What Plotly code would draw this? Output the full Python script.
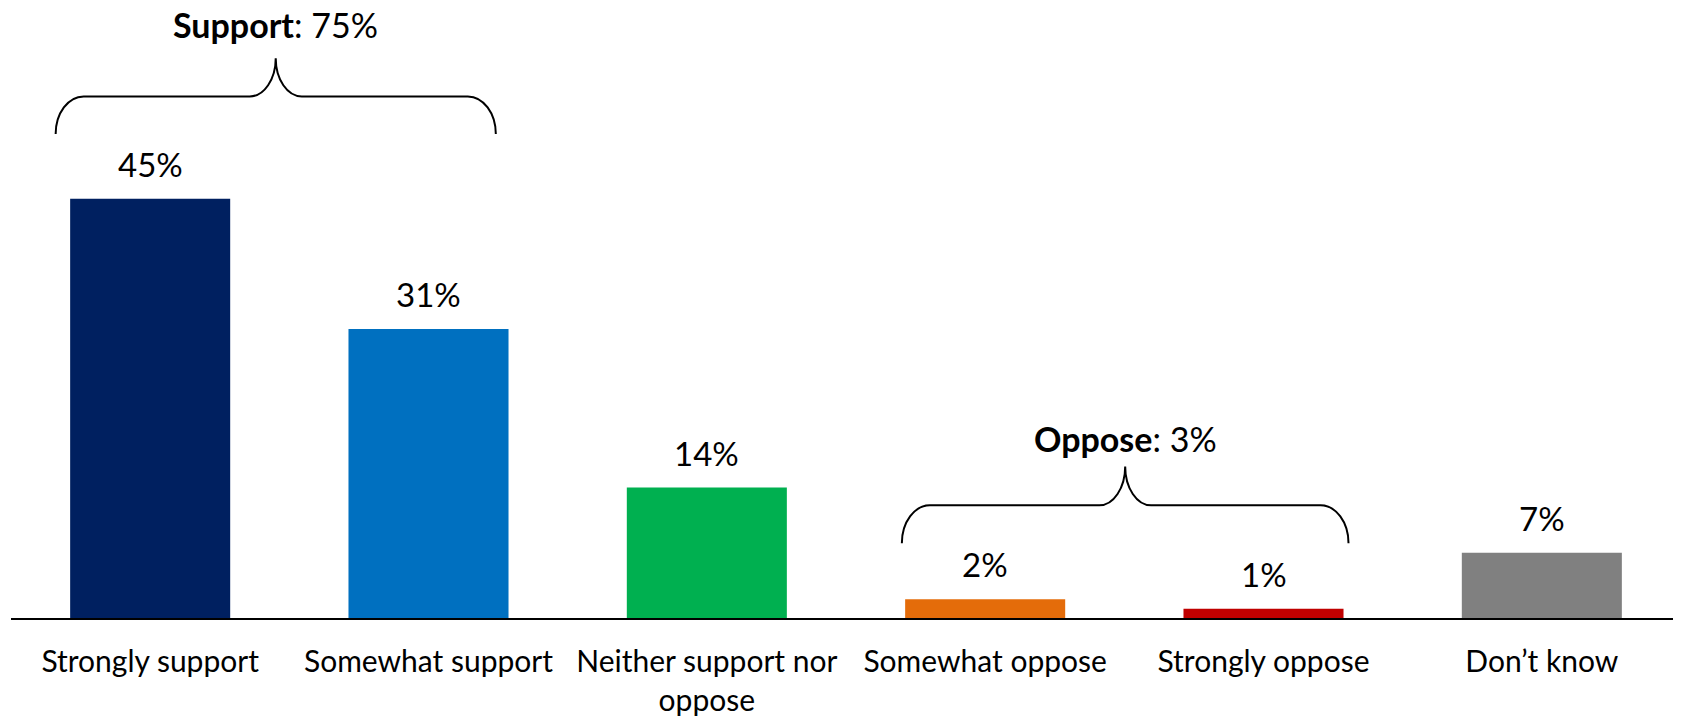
import plotly.graph_objects as go

# ---- data ----
categories = ["Strongly support", "Somewhat support", "Neither support nor<br>oppose",
              "Somewhat oppose", "Strongly oppose", "Don’t know"]
values = [45, 31, 14, 2, 1, 7]
labels = ["45%", "31%", "14%", "2%", "1%", "7%"]
colors = ["#002060", "#0070C0", "#00B050", "#E46C0A", "#C00000", "#808080"]

group_names = ["Support", "Oppose"]
group_totals = ["75%", "3%"]
group_members = [[0, 1], [3, 4]]

# ---- layout constants ----
PAGE_OFF = 8                      # default body margin of the html page
W, H = 1681 - PAGE_OFF, 717 - PAGE_OFF
M_L, M_R, M_T, M_B = 11 - PAGE_OFF, 0, 10 - PAGE_OFF, 97
BASE_PAGE = PAGE_OFF + H - M_B    # baseline in page pixels
PX_PER_UNIT = 9.35
Y_MAX = (H - M_T - M_B) / PX_PER_UNIT
BAR_FRAC = 0.575
FONT = "Lato"

xpos = list(range(len(categories)))
ppx = (W - M_L - M_R) / len(categories)   # pixels per category slot


def px_to_y(px_from_top):
    return (BASE_PAGE - px_from_top) / PX_PER_UNIT


fig = go.Figure()
fig.add_trace(go.Bar(
    x=xpos, y=values, marker=dict(color=colors, line=dict(width=0)),
    hoverinfo="skip", showlegend=False,
))

# value labels above the bars
for xi, v, t in zip(xpos, values, labels):
    fig.add_annotation(x=xi, y=v, text=t, showarrow=False, yanchor="middle",
                       yshift=35, font=dict(family=FONT, size=33, color="#000000"))


def bracket_path(xl, xr, yb, yh, yt, cw, cw2):
    k = 0.5523
    xm = (xl + xr) / 2
    p = []
    p.append(f"M {xl},{yb}")
    p.append(f"C {xl},{yb + k*(yh-yb)} {xl + cw - k*cw},{yh} {xl+cw},{yh}")
    p.append(f"L {xm - cw2},{yh}")
    p.append(f"C {xm - cw2 + k*cw2},{yh} {xm},{yt - k*(yt-yh)} {xm},{yt}")
    p.append(f"C {xm},{yt - k*(yt-yh)} {xm + cw2 - k*cw2},{yh} {xm + cw2},{yh}")
    p.append(f"L {xr - cw},{yh}")
    p.append(f"C {xr - cw + k*cw},{yh} {xr},{yb + k*(yh-yb)} {xr},{yb}")
    return " ".join(p)


half = BAR_FRAC / 2
# bracket geometry (page pixels from top): bottom, horizontal, tip, label centre
bracket_px = [(134.5, 96.7, 58.5, 24.5), (545, 507, 468, 439.5)]
# outward extension of the bracket ends beyond the outer bar edges (pixels)
bracket_extend = [(14.5, -12.7), (3.3, 5.0)]
cw = 28 / ppx
cw2 = 26 / ppx

for name, tot, mem, (pb, ph, pt, pl), (el, er) in zip(group_names, group_totals, group_members,
                                                      bracket_px, bracket_extend):
    xl = xpos[mem[0]] - half - el / ppx
    xr = xpos[mem[-1]] + half + er / ppx
    path = bracket_path(xl, xr, px_to_y(pb), px_to_y(ph), px_to_y(pt), cw, cw2)
    fig.add_shape(type="path", path=path, xref="x", yref="y",
                  line=dict(color="#000000", width=2))
    fig.add_annotation(x=(xl + xr) / 2, y=px_to_y(pl), text=f"<b>{name}</b>: {tot}",
                       showarrow=False, xanchor="center", yanchor="middle",
                       font=dict(family=FONT, size=34, color="#000000"))

fig.update_layout(
    width=W, height=H,
    margin=dict(l=M_L, r=M_R, t=M_T, b=M_B, pad=0),
    paper_bgcolor="white", plot_bgcolor="white",
    bargap=1 - BAR_FRAC,
    font=dict(family=FONT, color="#000000"),
    xaxis=dict(
        tickmode="array", tickvals=xpos, ticktext=categories,
        range=[-0.5, len(categories) - 0.5],
        showline=True, linecolor="#000000", linewidth=1.5,
        showgrid=False, zeroline=False, ticks="",
        tickfont=dict(family=FONT, size=30, color="#000000"),
        ticklabelstandoff=16,
        fixedrange=True,
    ),
    yaxis=dict(range=[0, Y_MAX], visible=False, showgrid=False, zeroline=False,
               fixedrange=True),
)

fig.write_html("out.html")
